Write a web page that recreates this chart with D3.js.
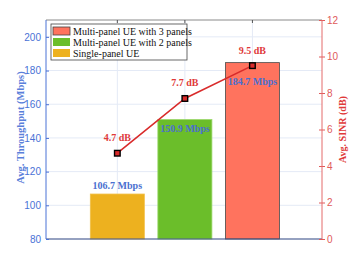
<!DOCTYPE html>
<html>
<head>
<meta charset="utf-8">
<script src="https://cdn.jsdelivr.net/npm/d3@7"></script>
<style>
  body { margin: 0; background: #fff; }
  svg { display: block; }
</style>
</head>
<body>
<div id="chart"></div>
<script>
// Data
const categories = ["Single-panel UE", "Multi-panel UE with 2 panels", "Multi-panel UE with 3 panels"];
const throughput = [106.7, 150.9, 184.7];
const sinr = [4.7, 7.7, 9.5];
const leftTicks = [80, 100, 120, 140, 160, 180, 200];
const rightTicks = [0, 2, 4, 6, 8, 10, 12];

const colors = ["#EDB11F", "#6BBE2A", "#FF735E"];
const strokes = ["#F2C14B", "#9AD86A", "#4a4a4a"];
// label offsets (px) relative to bar top
const barLabelDy = [-5, 12, 22];

const width = 357, height = 268;
const margin = { left: 46, right: 35, top: 20, bottom: 29 };
const plotW = width - margin.left - margin.right;
const plotH = height - margin.top - margin.bottom;

const svg = d3.select("#chart")
  .append("svg")
  .attr("width", width)
  .attr("height", height);

const g = svg.append("g")
  .attr("transform", `translate(${margin.left},${margin.top})`);

// Scales
const x = d3.scaleLinear().domain([-1.056, 3.03]).range([0, plotW]);
const yL = d3.scaleLinear().domain([80, 210]).range([plotH, 0]);
const yR = d3.scaleLinear().domain([0, 12]).range([plotH, 0]);
const barW = 0.8 * (x(1) - x(0));

// Grid
g.selectAll(".hgrid")
  .data(leftTicks)
  .enter()
  .append("line")
  .attr("x1", 0).attr("x2", plotW)
  .attr("y1", d => yL(d)).attr("y2", d => yL(d))
  .style("stroke", "#E4EAF6").style("stroke-width", 1);

g.selectAll(".vgrid")
  .data(categories)
  .enter()
  .append("line")
  .attr("x1", (d, i) => x(i)).attr("x2", (d, i) => x(i))
  .attr("y1", 0).attr("y2", plotH)
  .style("stroke", "#E4EAF6").style("stroke-width", 1);

// Bars
g.selectAll(".bar")
  .data(throughput)
  .enter()
  .append("rect")
  .attr("x", (d, i) => x(i) - barW / 2)
  .attr("y", d => yL(d))
  .attr("width", barW)
  .attr("height", d => plotH - yL(d))
  .style("fill", (d, i) => colors[i])
  .style("stroke", (d, i) => strokes[i])
  .style("stroke-width", 0.8);

// Top border with ticks
g.append("line")
  .attr("x1", 0).attr("x2", plotW).attr("y1", 0).attr("y2", 0)
  .style("stroke", "#8a8a8a").style("stroke-width", 1);
g.selectAll(".ttick")
  .data(categories)
  .enter()
  .append("line")
  .attr("x1", (d, i) => x(i)).attr("x2", (d, i) => x(i))
  .attr("y1", 0).attr("y2", 3)
  .style("stroke", "#555");

// Bottom axis line
g.append("line")
  .attr("x1", 0).attr("x2", plotW).attr("y1", plotH).attr("y2", plotH)
  .style("stroke", "#3B4F86").style("stroke-width", 1.2);

// Left axis
const leftAxis = d3.axisLeft(yL).tickValues(leftTicks).tickSize(-3).tickPadding(5);
const la = g.append("g").call(leftAxis);
la.select(".domain").remove();
la.selectAll("line").style("stroke", "#4A72D6");
la.selectAll("text").style("fill", "#4A72D6")
  .style("font-family", "Liberation Sans, Arial, sans-serif").style("font-size", "10px");
g.append("line")
  .attr("x1", 0).attr("x2", 0).attr("y1", 0).attr("y2", plotH)
  .style("stroke", "#4A72D6").style("stroke-width", 1);

// Right axis
const rightAxis = d3.axisRight(yR).tickValues(rightTicks).tickSize(3).tickPadding(2);
const ra = g.append("g").attr("transform", `translate(${plotW},0)`).call(rightAxis);
ra.select(".domain").remove();
ra.selectAll("line").attr("x1", -3).style("stroke", "#E05A5A");
ra.selectAll("text").style("fill", "#E05A5A")
  .style("font-family", "Liberation Sans, Arial, sans-serif").style("font-size", "10px");
g.append("line")
  .attr("x1", plotW).attr("x2", plotW).attr("y1", 0).attr("y2", plotH)
  .style("stroke", "#E46A6A").style("stroke-width", 1);

// SINR line
const line = d3.line()
  .x((d, i) => x(i))
  .y(d => yR(d));

g.append("path")
  .datum(sinr)
  .attr("d", line)
  .style("fill", "none")
  .style("stroke", "#D92B2B")
  .style("stroke-width", 1.6);

g.selectAll(".marker")
  .data(sinr)
  .enter()
  .append("rect")
  .attr("x", (d, i) => x(i) - 2.8)
  .attr("y", d => yR(d) - 2.8)
  .attr("width", 5.6).attr("height", 5.6)
  .style("fill", "#D92B2B")
  .style("stroke", "#000").style("stroke-width", 1.4);

// SINR labels
g.selectAll(".sinrLabel")
  .data(sinr)
  .enter()
  .append("text")
  .attr("x", (d, i) => x(i))
  .attr("y", d => yR(d) - 12)
  .attr("text-anchor", "middle")
  .style("fill", "#E03A3A")
  .style("font-family", "Liberation Serif, Times New Roman, serif")
  .style("font-weight", "bold")
  .style("font-size", "10px")
  .text(d => d.toFixed(1) + " dB");

// Throughput labels
g.selectAll(".barLabel")
  .data(throughput)
  .enter()
  .append("text")
  .attr("x", (d, i) => x(i))
  .attr("y", (d, i) => yL(d) + barLabelDy[i])
  .attr("text-anchor", "middle")
  .style("fill", "#4A6FD0")
  .style("font-family", "Liberation Serif, Times New Roman, serif")
  .style("font-weight", "bold")
  .style("font-size", "10px")
  .text(d => d.toFixed(1) + " Mbps");

// Axis titles
svg.append("text")
  .attr("transform", `translate(24,${margin.top + plotH / 2 - 2}) rotate(-90)`)
  .attr("text-anchor", "middle")
  .style("fill", "#5A80DA")
  .style("font-family", "Liberation Serif, Times New Roman, serif")
  .style("font-weight", "bold")
  .style("font-size", "10.5px")
  .text("Avg. Throughput (Mbps)");

svg.append("text")
  .attr("transform", `translate(346,${margin.top + plotH / 2}) rotate(-90)`)
  .attr("text-anchor", "middle")
  .style("fill", "#E03A3A")
  .style("font-family", "Liberation Serif, Times New Roman, serif")
  .style("font-weight", "bold")
  .style("font-size", "10px")
  .text("Avg. SINR (dB)");

// Legend (reverse order)
const legendItems = categories.map((c, i) => ({ name: c, i: i })).reverse();
const legend = g.append("g").attr("transform", "translate(5,4)");
legend.append("rect")
  .attr("x", 0).attr("y", 0).attr("width", 136).attr("height", 36)
  .style("fill", "#fff").style("stroke", "#444").style("stroke-width", 0.8);
const li = legend.selectAll(".item")
  .data(legendItems)
  .enter()
  .append("g")
  .attr("transform", (d, k) => `translate(2,${3 + k * 11})`);
li.append("rect")
  .attr("width", 17).attr("height", 8)
  .style("fill", d => colors[d.i])
  .style("stroke", d => d.i === 2 ? "#444" : "none")
  .style("stroke-width", 0.8);
li.append("text")
  .attr("x", 20).attr("y", 7.5)
  .style("font-family", "Liberation Serif, Times New Roman, serif")
  .style("font-size", "10px")
  .style("fill", "#111")
  .text(d => d.name);
</script>
</body>
</html>
